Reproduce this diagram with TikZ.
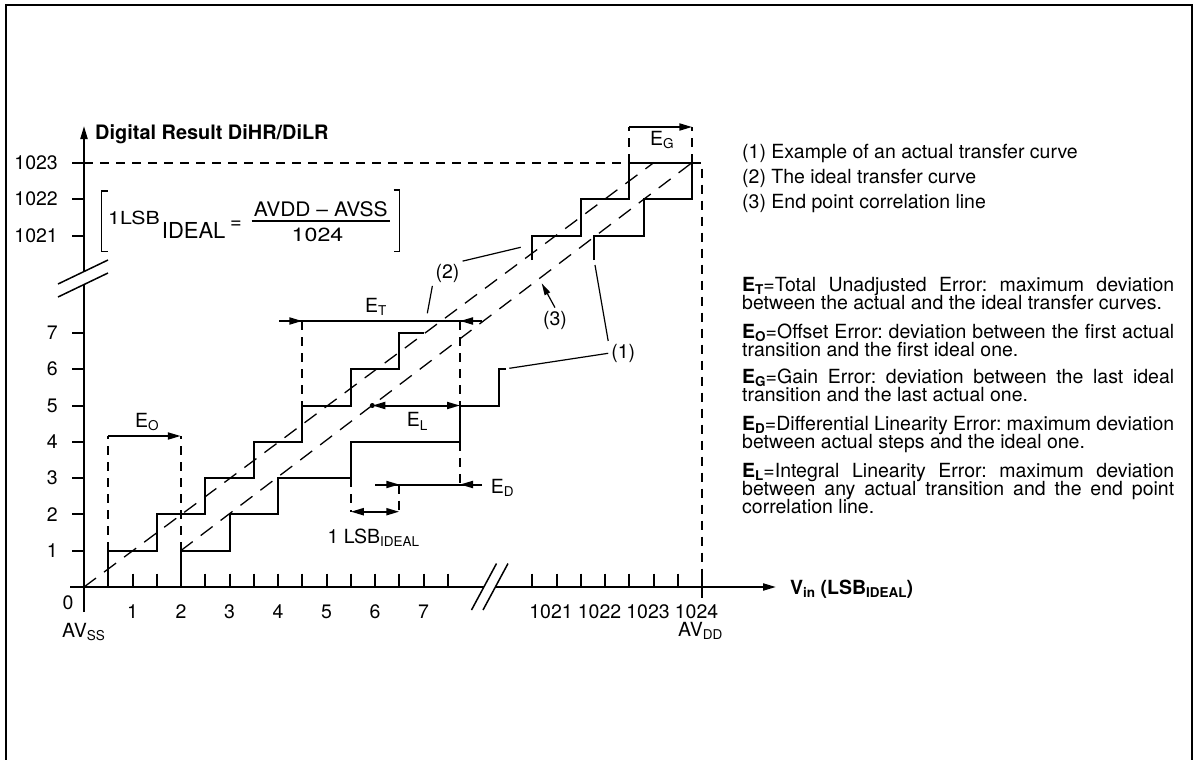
\documentclass[tikz,border=0pt]{standalone}
\usepackage{fontspec}
\setmainfont{TeX Gyre Heros}
\usepackage{graphicx}
\usetikzlibrary{arrows.meta}
\frenchspacing
\newcommand{\lowidx}[1]{\raisebox{-3.5pt}{\fontsize{13.5}{14}\selectfont #1}}

\begin{document}
\begin{tikzpicture}[x=1pt, y=-1pt, font=\fontsize{19.5}{21}\selectfont,
  solidline/.style={line width=2pt},
  guide/.style={line width=2pt, dash pattern=on 9pt off 7pt},
  corr/.style={line width=1.3pt, dash pattern=on 15pt off 10pt},
  head/.style={-{Triangle[length=13pt,width=7pt]}},
  twoheads/.style={{Triangle[length=13pt,width=7pt]}-{Triangle[length=13pt,width=7pt]}},
  leader/.style={line width=1.2pt},
  lbl/.style={inner sep=0pt, anchor=base west},
  curvetag/.style={inner sep=3pt},
  bracket/.style={line width=1.2pt}
]
\useasboundingbox (0,0) rectangle (1194,760);
% frame
\draw[line width=2.2pt] (6,770) -- (6,5) -- (1192,5) -- (1192,770);

% axes with breaks
\draw[solidline] (84,612) -- (84,284.5);
\draw[solidline, head] (84,271.5) -- (84,126);
\draw[solidline] (70,587) -- (484,587);
\draw[solidline, head] (495.5,587) -- (776,587);
\draw[line width=1.5pt] (58,284) -- (108,260) (58,297) -- (108,273);
\draw[line width=1.5pt] (471.5,610) -- (496.5,563.5) (483,610) -- (508,563.5);
\node[lbl, font=\fontsize{19.9}{21}\selectfont\bfseries] (ytitle) at (95,139.3) {Digital Result DiHR/DiLR};
\node[lbl, font=\fontsize{19.5}{21}\selectfont\bfseries] (xtitle) at (790,594) {V\lowidx{in} (LSB\lowidx{IDEAL})};

% ticks and tick labels
\foreach \n in {1,...,7} {
  \draw[solidline] (72,587-36.3*\n) -- (84,587-36.3*\n);
  \node[anchor=east, inner sep=0pt] (yl\n) at (58,587-36.3*\n) {\n};
  \node[inner sep=0pt] (xl\n) at (84+48.5*\n,611.7) {\n};
}
\foreach \n/\y in {1021/235.5, 1022/199, 1023/162.5} {
  \draw[solidline] (72,\y) -- (84,\y);
  \node[anchor=east, inner sep=0pt] (yl\n) at (58,\y) {\n};
}
\foreach \n/\x in {1021/551, 1022/599.5, 1023/648, 1024/696.5}
  \node[inner sep=0pt] (xl\n) at (\x,611.7) {\n};
\foreach \t in {0.5,1,...,7.5}
  \draw[solidline] (84+48.5*\t,573.5) -- (84+48.5*\t,587);
\foreach \t in {-3.5,-3,...,-0.5}
  \draw[solidline] (702+48.5*\t,573.5) -- (702+48.5*\t,587);
\draw[solidline] (702,573.5) -- (702,598);
\node[inner sep=0pt] (zero) at (68,603) {0};
\node[lbl] (avss) at (62,637) {AV\lowidx{SS}};
\node[lbl] (avdd) at (678,636) {AV\lowidx{DD}};

% formula
\draw[bracket] (107.5,191) -- (101.5,191) -- (101.5,251.7) -- (107.5,251.7);
\draw[bracket] (393.5,190) -- (399.5,190) -- (399.5,251.7) -- (393.5,251.7);
\node[lbl] (lsb) at (108,224.3) {\fontsize{18}{19}\selectfont\scalebox{1.18}[1]{1LSB}};
\node[lbl, font=\fontsize{22}{24}\selectfont] (ideal) at (161.7,238.3) {IDEAL};
\node[inner sep=0pt, font=\fontsize{20}{22}\selectfont] (eq) at (236,224.7) {=};
\node[anchor=base, inner sep=0pt, font=\fontsize{20}{22}\selectfont] (num) at (320.8,216.7) {\scalebox{1.05}[1]{AVDD – AVSS}};
\node[anchor=base, inner sep=0pt, font=\fontsize{19}{21}\selectfont] (den) at (317.5,241.7) {\scalebox{1.22}[1]{1024}};
\draw[line width=1.5pt] (251.7,221) -- (390,221);

% 1023 level and 1024 limit
\draw[guide] (84,162.5) -- (702,162.5) -- (702,587);

% ideal transfer curve (2)
\draw[solidline] (108.25,587) -- (108.25,550.7) -- (156.75,550.7) -- (156.75,514.4)
  -- (205.25,514.4) -- (205.25,478.1) -- (253.75,478.1) -- (253.75,441.8)
  -- (302.25,441.8) -- (302.25,405.5) -- (350.75,405.5) -- (350.75,369.2)
  -- (399.25,369.2) -- (399.25,332.9) -- (423.5,332.9);
\draw[solidline] (532.25,260) -- (532.25,235.5) -- (580.75,235.5) -- (580.75,199)
  -- (629.25,199) -- (629.25,162.5) -- (692.25,162.5);
% actual transfer curve (1)
\draw[solidline] (180.75,587) -- (180.75,550.7) -- (229.5,550.7) -- (229.5,514.4)
  -- (278,514.4) -- (278,478.1) -- (350.75,478.1) -- (350.75,441.8)
  -- (460,441.8) -- (460,405.5) -- (499,405.5) -- (499,369.2) -- (506,369.2);
\draw[solidline] (594.25,260) -- (594.25,235.5) -- (644.25,235.5) -- (644.25,199)
  -- (692.25,199) -- (692.25,162.5);
% straight lines
\draw[corr] (84,587) -- (654,162.5);
\draw[corr] (180.75,550.7) -- (692.25,162.5);

% E_O
\draw[guide] (108.25,550.7) -- (108.25,436);
\draw[guide] (180.75,550.7) -- (180.75,436);
\draw[solidline, head] (108.25,436) -- (180.75,436);
\node[lbl] (eo) at (135,427) {E\lowidx{O}};
% E_T
\draw[solidline] (279,321) -- (482,321);
\draw[solidline, head] (279,321) -- (302.25,321);
\draw[solidline, head] (482,321) -- (460,321);
\draw[guide] (302.25,321) -- (302.25,405.5);
\draw[guide] (460,321) -- (460,405.5);
\draw[guide] (460,441.8) -- (460,484.5);
\node[lbl] (et) at (365,312) {E\lowidx{T}};
% E_L
\draw[solidline, twoheads] (372.3,405.5) -- (460,405.5);
\fill (372.3,405.5) circle (2.5pt);
\node[lbl] (el) at (406.7,426.7) {E\lowidx{L}};
% E_D and 1 LSB
\draw[solidline] (375,484.5) -- (482,484.5);
\draw[solidline, head] (375,484.5) -- (399.25,484.5);
\draw[solidline, head] (482,484.5) -- (460,484.5);
\draw[guide] (399.25,484.5) -- (399.25,511.7);
\draw[guide] (350.75,478.1) -- (350.75,511.7);
\draw[solidline, twoheads] (350.75,511.7) -- (399.25,511.7);
\node[lbl] (ed) at (490.7,493.3) {E\lowidx{D}};
\node[lbl] (onelsb) at (327.3,543.3) {1 LSB\lowidx{IDEAL}};
% E_G
\draw[guide] (629.25,162.5) -- (629.25,127);
\draw[guide] (692.25,162.5) -- (692.25,127);
\draw[solidline, head] (629.25,127) -- (692.25,127);
\node[lbl] (eg) at (650,145) {E\lowidx{G}};

% curve markers
\node[curvetag] (lab2) at (447.5,273.5) {(2)};
\node[curvetag] (lab3) at (555,320) {(3)};
\node[curvetag] (lab1) at (623.3,353.3) {(1)};
\coordinate (p2a) at (520.7,247.3);
\coordinate (p2b) at (427.3,313.3);
\coordinate (p3) at (541.7,283.3);
\coordinate (p1a) at (509.3,368.3);
\coordinate (p1b) at (595,265);
\draw[leader] (lab2.north east) -- (p2a);
\draw[leader] (lab2.south west) -- (p2b);
\draw[leader, -{Triangle[length=12pt,width=6pt]}] (lab3.north) -- (p3);
\draw[leader] (lab1.west) -- (p1a);
\draw[leader] (lab1.north west) -- (p1b);

% legend
\node[lbl] (leg1) at (742,158) {(1) Example of an actual transfer curve};
\node[lbl] (leg2) at (742,183) {(2) The ideal transfer curve};
\node[lbl] (leg3) at (742,208) {(3) End point correlation line};

% definitions
\node[lbl] (dt1) at (742,291) {\makebox[432pt][s]{\textbf{E\lowidx{T}}=Total Unadjusted Error: maximum deviation}};
\node[lbl] (dt2) at (742,309) {between the actual and the ideal transfer curves.};
\node[lbl] (do1) at (742,338) {\makebox[432pt][s]{\textbf{E\lowidx{O}}=Offset Error: deviation between the first actual}};
\node[lbl] (do2) at (742,356) {transition and the first ideal one.};
\node[lbl] (dg1) at (742,383) {\makebox[432pt][s]{\textbf{E\lowidx{G}}=Gain Error: deviation between the last ideal}};
\node[lbl] (dg2) at (742,401) {transition and the last actual one.};
\node[lbl] (dd1) at (742,430) {\makebox[432pt][s]{\textbf{E\lowidx{D}}=Differential Linearity Error: maximum deviation}};
\node[lbl] (dd2) at (742,448) {between actual steps and the ideal one.};
\node[lbl] (dl1) at (742,477) {\makebox[432pt][s]{\textbf{E\lowidx{L}}=Integral Linearity Error: maximum deviation}};
\node[lbl] (dl2) at (742,495) {\makebox[432pt][s]{between any actual transition and the end point}};
\node[lbl] (dl3) at (742,513) {correlation line.};
\end{tikzpicture}
\end{document}
